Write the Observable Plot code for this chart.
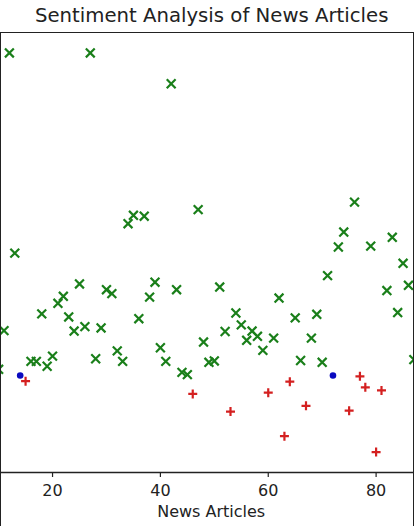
<!DOCTYPE html>
<html>
<head>
<meta charset="utf-8">
<script src="https://cdn.jsdelivr.net/npm/d3@7"></script>
<script src="https://cdn.jsdelivr.net/npm/@observablehq/plot@0.6"></script>
<style>
  body { margin: 0; background: #fff; }
  #wrap { position: relative; width: 414px; height: 526px; overflow: hidden; font-family: "DejaVu Sans", sans-serif; background: #fff; }
  #title { position: absolute; left: 0; top: 0; width: 414px; height: 32px; line-height: 32px; text-align: center; font-size: 19.7px; color: #222; padding-left: 9.4px; box-sizing: border-box; white-space: nowrap; }
  #chart { position: absolute; left: 0; top: 32px; }
  #frame { position: absolute; left: 0; top: 31.5px; width: 414px; height: 495px; box-sizing: border-box; border-top: 1.5px solid #222; border-left: 1.5px solid #222; border-right: 1.5px solid #222; pointer-events: none; }
</style>
</head>
<body>
<div id="wrap">
  <div id="title">Sentiment Analysis of News Articles</div>
  <div id="chart"></div>
  <div id="frame"></div>
</div>
<script>
// Positive articles (green x)
const positiveArticles = [10, 11, 12, 13, 16, 17, 18, 19, 20, 21, 22, 23, 24, 25, 26, 27, 28, 29, 30, 31, 32, 33, 34, 35, 36, 37, 38, 39, 40, 41, 42, 43, 44, 45, 47, 48, 49, 50, 51, 52, 54, 55, 56, 57, 58, 59, 61, 62, 65, 66, 68, 69, 70, 71, 73, 74, 76, 79, 82, 83, 84, 85, 86, 87];
const positiveScores   = [0.014, 0.102, 0.733, 0.278, 0.032, 0.032, 0.140, 0.021, 0.044, 0.164, 0.180, 0.133, 0.101, 0.208, 0.111, 0.733, 0.038, 0.108, 0.195, 0.186, 0.056, 0.032, 0.345, 0.364, 0.129, 0.362, 0.178, 0.212, 0.063, 0.032, 0.663, 0.195, 0.007, 0.002, 0.377, 0.076, 0.030, 0.033, 0.201, 0.100, 0.142, 0.115, 0.080, 0.101, 0.089, 0.057, 0.085, 0.176, 0.131, 0.034, 0.085, 0.139, 0.030, 0.227, 0.292, 0.326, 0.394, 0.294, 0.193, 0.314, 0.143, 0.255, 0.205, 0.036];

// Negative articles (red +)
const negativeArticles = [15, 46, 53, 60, 63, 64, 67, 75, 77, 78, 80, 81];
const negativeScores   = [-0.013, -0.042, -0.082, -0.039, -0.138, -0.014, -0.069, -0.080, -0.002, -0.027, -0.174, -0.034];

// Neutral articles (blue dot)
const neutralArticles = [14, 72];
const neutralScores   = [0, 0];

const xTicks = [20, 40, 60, 80];
const xDomain = [10.35, 87.12];
const yDomain = [-0.2205, 0.7795];

const pos = positiveArticles.map((a, i) => ({article: a, score: positiveScores[i]}));
const neg = negativeArticles.map((a, i) => ({article: a, score: negativeScores[i]}));
const neu = neutralArticles.map((a, i) => ({article: a, score: neutralScores[i]}));

const chart = Plot.plot({
  width: 414,
  height: 494,
  marginLeft: 0,
  marginRight: 0,
  marginTop: 0,
  marginBottom: 54,
  style: { fontFamily: "DejaVu Sans, sans-serif", fontSize: "16px", color: "#222", background: "transparent", overflow: "visible" },
  x: { domain: xDomain },
  y: { domain: yDomain, axis: null },
  marks: [
    Plot.axisX({ ticks: xTicks, tickSize: 5, tickPadding: 7, label: null, tickFormat: d => String(d), stroke: "#222", strokeWidth: 1.2 }),
    Plot.ruleY([yDomain[0]], { stroke: "#222", strokeWidth: 1.5 }),
    Plot.dot(pos, { x: "article", y: "score", symbol: "times", r: 4.1, stroke: "#1a7f1a", strokeWidth: 2.2, clip: true }),
    Plot.dot(neg, { x: "article", y: "score", symbol: "plus", r: 3, stroke: "#d42020", strokeWidth: 2.2, clip: true }),
    Plot.dot(neu, { x: "article", y: "score", symbol: "circle", r: 3.3, fill: "#0a0ac0", stroke: "none", clip: true }),
    Plot.text(["News Articles"], { text: d => d, frameAnchor: "bottom", dy: 44.4, dx: 3.7, fontSize: 16, fill: "#222" })
  ]
});
document.getElementById("chart").appendChild(chart);
</script>
</body>
</html>
